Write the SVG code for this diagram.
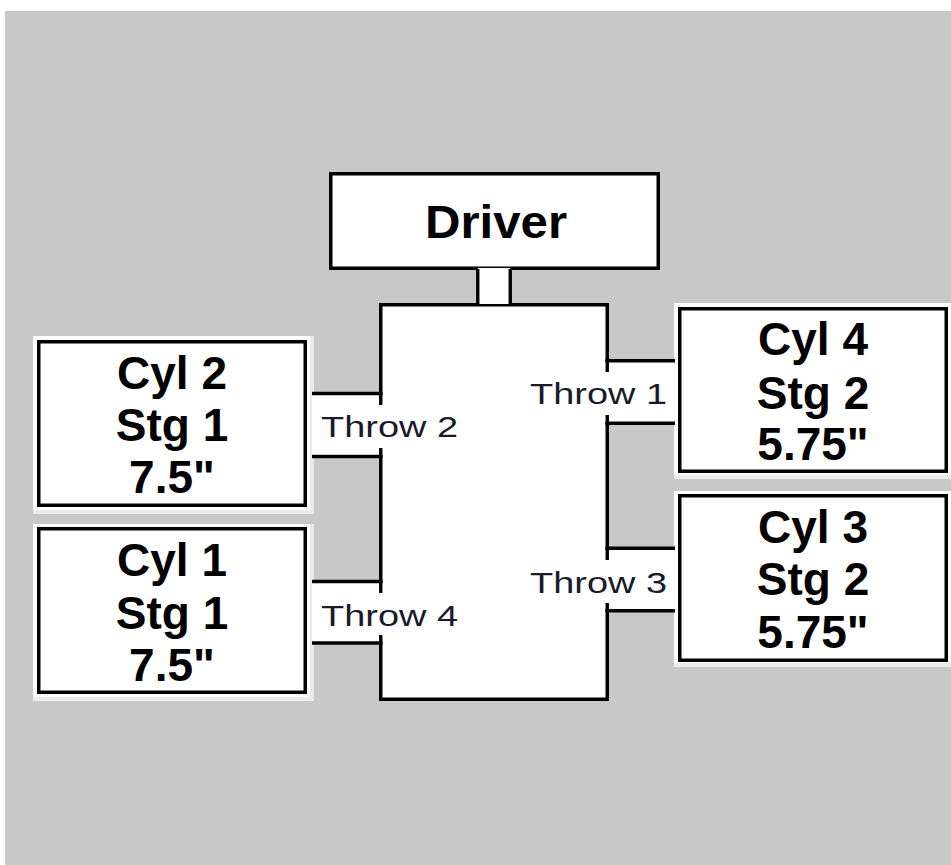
<svg xmlns="http://www.w3.org/2000/svg" width="951" height="865" viewBox="0 0 951 865">
<style>
.bx{fill:#fff;stroke:#000;stroke-width:3.5}
.fr{fill:#fff}
.sh{fill:#ebebeb}
.ln{stroke:#000;stroke-width:3.4;fill:none}
.big{font-family:"Liberation Sans",Arial,sans-serif;font-weight:bold;font-size:46px;fill:#000;text-anchor:middle}
.thr{font-family:"Liberation Sans",Arial,sans-serif;font-size:30px;fill:#1a1a2a}
</style>
<rect x="0" y="0" width="951" height="865" fill="#fff"/>
<rect x="5" y="11" width="946" height="854" fill="#c8c8c8"/>

<g id="driver">
<rect class="bx" x="330.75" y="173.75" width="327.5" height="94.5"/>
<text class="big" x="496" y="238" textLength="142" lengthAdjust="spacingAndGlyphs">Driver</text>
</g>

<g id="crankcase">
<rect class="bx" x="380.75" y="304.75" width="226.5" height="394.5"/>
</g>

<g id="cyl2">
<rect class="sh" x="33" y="336" width="281" height="178"/>
<rect class="fr" x="33" y="336" width="277" height="174"/>
<rect class="bx" x="38.75" y="341.75" width="266.5" height="163.5"/>
<text class="big" x="172" y="389">Cyl 2</text>
<text class="big" x="172" y="441">Stg 1</text>
<text class="big" x="172" y="493">7.5"</text>
</g>

<g id="cyl1">
<rect class="sh" x="33" y="524" width="281" height="177"/>
<rect class="fr" x="33" y="524" width="277" height="173"/>
<rect class="bx" x="38.75" y="528.75" width="266.5" height="163.5"/>
<text class="big" x="172" y="576">Cyl 1</text>
<text class="big" x="172" y="629">Stg 1</text>
<text class="big" x="172" y="681">7.5"</text>
</g>

<g id="cyl4">
<rect class="sh" x="674" y="303" width="277" height="176"/>
<rect class="fr" x="674" y="303" width="277" height="172"/>
<rect class="bx" x="679.75" y="308.75" width="266.5" height="162.5"/>
<text class="big" x="813" y="355">Cyl 4</text>
<text class="big" x="813" y="409">Stg 2</text>
<text class="big" x="813" y="460">5.75"</text>
</g>

<g id="cyl3">
<rect class="sh" x="674" y="491" width="277" height="176"/>
<rect class="fr" x="674" y="491" width="277" height="172"/>
<rect class="bx" x="679.75" y="495.75" width="266.5" height="164.5"/>
<text class="big" x="813" y="543">Cyl 3</text>
<text class="big" x="813" y="595">Stg 2</text>
<text class="big" x="813" y="648">5.75"</text>
</g>

<g id="connectors">
<!-- driver shaft -->
<rect x="477.75" y="268" width="32.5" height="36" fill="#fff"/>
<line class="ln" x1="477.75" y1="269" x2="477.75" y2="304"/>
<line class="ln" x1="510.25" y1="269" x2="510.25" y2="304"/>

<!-- Throw 2 -->
<rect x="312" y="395" width="74" height="60" fill="#fff"/>
<line class="ln" x1="312" y1="393.5" x2="382.5" y2="393.5"/>
<line class="ln" x1="312" y1="456.5" x2="382.5" y2="456.5"/>
<line class="ln" x1="380.75" y1="393.5" x2="380.75" y2="405"/>
<line class="ln" x1="380.75" y1="448" x2="380.75" y2="456.5"/>
<text class="thr" x="321" y="437" textLength="137" lengthAdjust="spacingAndGlyphs">Throw 2</text>

<!-- Throw 4 -->
<rect x="312" y="583" width="74" height="59" fill="#fff"/>
<line class="ln" x1="312" y1="581.5" x2="382.5" y2="581.5"/>
<line class="ln" x1="312" y1="643" x2="382.5" y2="643"/>
<line class="ln" x1="380.75" y1="581.5" x2="380.75" y2="593"/>
<line class="ln" x1="380.75" y1="635" x2="380.75" y2="643"/>
<text class="thr" x="321" y="626" textLength="137" lengthAdjust="spacingAndGlyphs">Throw 4</text>

<!-- Throw 1 -->
<rect x="603" y="362" width="72" height="60" fill="#fff"/>
<line class="ln" x1="605.5" y1="360.7" x2="675" y2="360.7"/>
<line class="ln" x1="605.5" y1="423.3" x2="675" y2="423.3"/>
<line class="ln" x1="607.25" y1="360.7" x2="607.25" y2="372"/>
<line class="ln" x1="607.25" y1="415" x2="607.25" y2="423.3"/>
<text class="thr" x="530" y="404" textLength="137" lengthAdjust="spacingAndGlyphs">Throw 1</text>

<!-- Throw 3 -->
<rect x="603" y="550" width="72" height="59" fill="#fff"/>
<line class="ln" x1="605.5" y1="548.3" x2="675" y2="548.3"/>
<line class="ln" x1="605.5" y1="610.7" x2="675" y2="610.7"/>
<line class="ln" x1="607.25" y1="548.3" x2="607.25" y2="560"/>
<line class="ln" x1="607.25" y1="603" x2="607.25" y2="610.7"/>
<text class="thr" x="530" y="593" textLength="137" lengthAdjust="spacingAndGlyphs">Throw 3</text>
</g>
</svg>
